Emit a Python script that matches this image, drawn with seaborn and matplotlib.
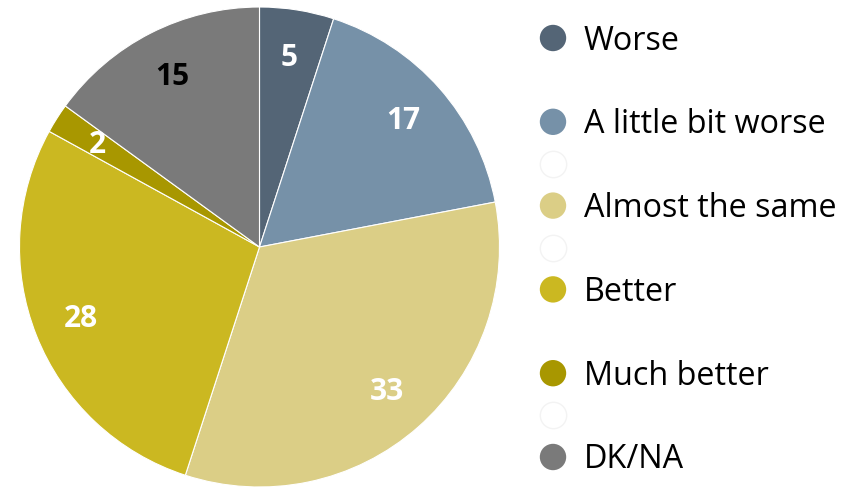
import matplotlib
matplotlib.use("Agg")
import matplotlib.pyplot as plt
import seaborn as sns

categories = ["Worse", "A little bit worse", "Almost the same", "Better", "Much better", "DK/NA"]
values = [5, 17, 33, 28, 2, 15]
colors = ["#546576", "#7691A8", "#DBCE86", "#CBB821", "#A89700", "#7A7A7A"]
label_colors = ["white", "white", "white", "white", "white", "black"]

sns.set_theme(style="white")
plt.rcParams['font.family'] = ['Open Sans', 'DejaVu Sans']

fig = plt.figure(figsize=(8.62, 4.89), dpi=100)
ax = fig.add_axes([19.5 / 862, 1 / 489, 480 / 862, 480 / 489])
palette = sns.color_palette(colors)
wedges, texts = ax.pie(values, colors=palette, startangle=90, counterclock=False,
                       radius=1.0, labels=[str(v) for v in values], labeldistance=0.8,
                       wedgeprops=dict(edgecolor="white", linewidth=0.8))
for t, c in zip(texts, label_colors):
    t.set_color(c)
    t.set_fontsize(21.5)
    t.set_fontweight("bold")
    t.set_ha("center")
    t.set_va("center")
ax.set_xlim(-1, 1)
ax.set_ylim(-1, 1)
ax.set_aspect("equal")
ax.axis("off")

# legend (with faint placeholder circles as in the original)
lax = fig.add_axes([0, 0, 1, 1], facecolor="none")
lax.set_xlim(0, 862)
lax.set_ylim(489, 0)
lax.axis("off")
rows = [("cat", 0), (None, None), ("cat", 1), ("ghost", None), ("cat", 2), ("ghost", None),
        ("cat", 3), (None, None), ("cat", 4), ("ghost", None), ("cat", 5)]
y0, dy = 39, 41.9
for i, (kind, idx) in enumerate(rows):
    y = y0 + i * dy
    if kind == "cat":
        lax.scatter([553], [y], s=19 ** 2, color=palette[idx], edgecolor="none")
        lax.text(584, y + 10.5, categories[idx], fontsize=23.3, color="black",
                 va="baseline", ha="left")
    elif kind == "ghost":
        lax.scatter([553], [y], s=19 ** 2, color="white", edgecolor="#f3f3f3", linewidth=1)

fig.savefig("out.png", dpi=100)
